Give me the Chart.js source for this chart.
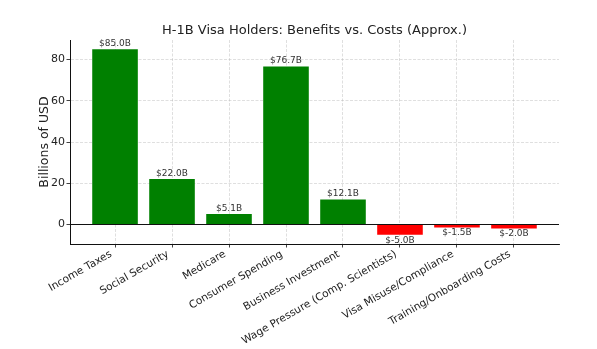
<!DOCTYPE html>
<html>
<head>
<meta charset="utf-8">
<script src="https://cdn.jsdelivr.net/npm/chart.js@4/dist/chart.umd.min.js"></script>
<style>
  html, body { margin: 0; padding: 0; background: #fff; }
  #wrap { width: 597px; height: 349px; }
</style>
</head>
<body>
<div id="wrap"><canvas id="c" width="597" height="349"></canvas></div>
<script>
// Categories and approximate annual values (billions of USD)
const categories = [
  'Income Taxes',
  'Social Security',
  'Medicare',
  'Consumer Spending',
  'Business Investment',
  'Wage Pressure (Comp. Scientists)',
  'Visa Misuse/Compliance',
  'Training/Onboarding Costs'
];
const values = [85.0, 22.0, 5.1, 76.7, 12.1, -5.0, -1.5, -2.0];
const yTicks = [0, 20, 40, 60, 80];

const FONT = 'DejaVu Sans';
const GRID = 'rgba(176,176,176,0.5)';

const points = categories.map((c, i) => ({ x: i, y: values[i] }));
const colors = values.map(v => (v >= 0 ? '#008000' : '#ff0000'));

// Value labels above positive bars, below negative bars
const valueLabels = {
  id: 'valueLabels',
  afterDatasetsDraw(chart) {
    const ctx = chart.ctx;
    const meta = chart.getDatasetMeta(0);
    ctx.save();
    ctx.font = '9px "' + FONT + '"';
    ctx.fillStyle = '#333';
    ctx.textAlign = 'center';
    meta.data.forEach((bar, i) => {
      const v = values[i];
      const txt = '$' + v.toFixed(1) + 'B';
      if (v >= 0) {
        ctx.textBaseline = 'bottom';
        ctx.fillText(txt, bar.x, bar.y - 1);
      } else {
        ctx.textBaseline = 'top';
        ctx.fillText(txt, bar.x, bar.y + 1);
      }
    });
    ctx.restore();
  }
};

// Horizontal reference line at zero
const zeroLine = {
  id: 'zeroLine',
  afterDraw(chart) {
    const { ctx, chartArea, scales } = chart;
    const y = Math.round(scales.y.getPixelForValue(0)) + 0.5;
    ctx.save();
    ctx.strokeStyle = '#111';
    ctx.lineWidth = 1;
    ctx.beginPath();
    ctx.moveTo(chartArea.left, y);
    ctx.lineTo(chartArea.right, y);
    ctx.stroke();
    ctx.restore();
  }
};

new Chart(document.getElementById('c'), {
  type: 'bar',
  data: {
    datasets: [{
      data: points,
      backgroundColor: colors,
      borderWidth: 0,
      barPercentage: 0.8,
      categoryPercentage: 1.0
    }]
  },
  options: {
    responsive: false,
    animation: false,
    devicePixelRatio: 1,
    layout: { padding: { left: 0, right: 38, top: 0, bottom: 0 } },
    plugins: {
      legend: { display: false },
      tooltip: { enabled: false },
      title: {
        display: true,
        fullSize: false,
        text: 'H-1B Visa Holders: Benefits vs. Costs (Approx.)',
        color: '#222',
        font: { family: FONT, size: 13, weight: 'normal' },
        padding: { top: 23, bottom: 1.4 }
      }
    },
    scales: {
      x: {
        type: 'linear',
        min: -0.79,
        max: 7.79,
        offset: false,
        z: 1,
        afterBuildTicks: s => { s.ticks = categories.map((c, i) => ({ value: i })); },
        afterFit: s => { s.height = 105; },
        ticks: {
          autoSkip: false,
          minRotation: 30,
          maxRotation: 30,
          labelOffset: -4,
          padding: 0.5,
          color: '#222',
          font: { family: FONT, size: 10.5 },
          callback: v => categories[v] ?? ''
        },
        grid: {
          offset: false,
          color: GRID,
          lineWidth: 0.8,
          tickColor: '#111',
          tickLength: 3.5,
          tickWidth: 0.8
        },
        border: { display: true, color: '#111', width: 1, dash: [3, 1.5] }
      },
      y: {
        min: -9.5,
        max: 89.5,
        z: 1,
        afterBuildTicks: s => { s.ticks = yTicks.map(v => ({ value: v })); },
        afterFit: s => { s.width = 70; },
        ticks: {
          padding: 1.5,
          color: '#222',
          font: { family: FONT, size: 11 }
        },
        title: {
          display: true,
          text: 'Billions of USD',
          color: '#222',
          font: { family: FONT, size: 12.5 },
          padding: { top: 37, bottom: 0 }
        },
        grid: {
          color: GRID,
          lineWidth: 0.8,
          tickColor: '#111',
          tickLength: 3.5,
          tickWidth: 0.8
        },
        border: { display: true, color: '#111', width: 1, dash: [3, 1.5] }
      }
    }
  },
  plugins: [valueLabels, zeroLine]
});
</script>
</body>
</html>
